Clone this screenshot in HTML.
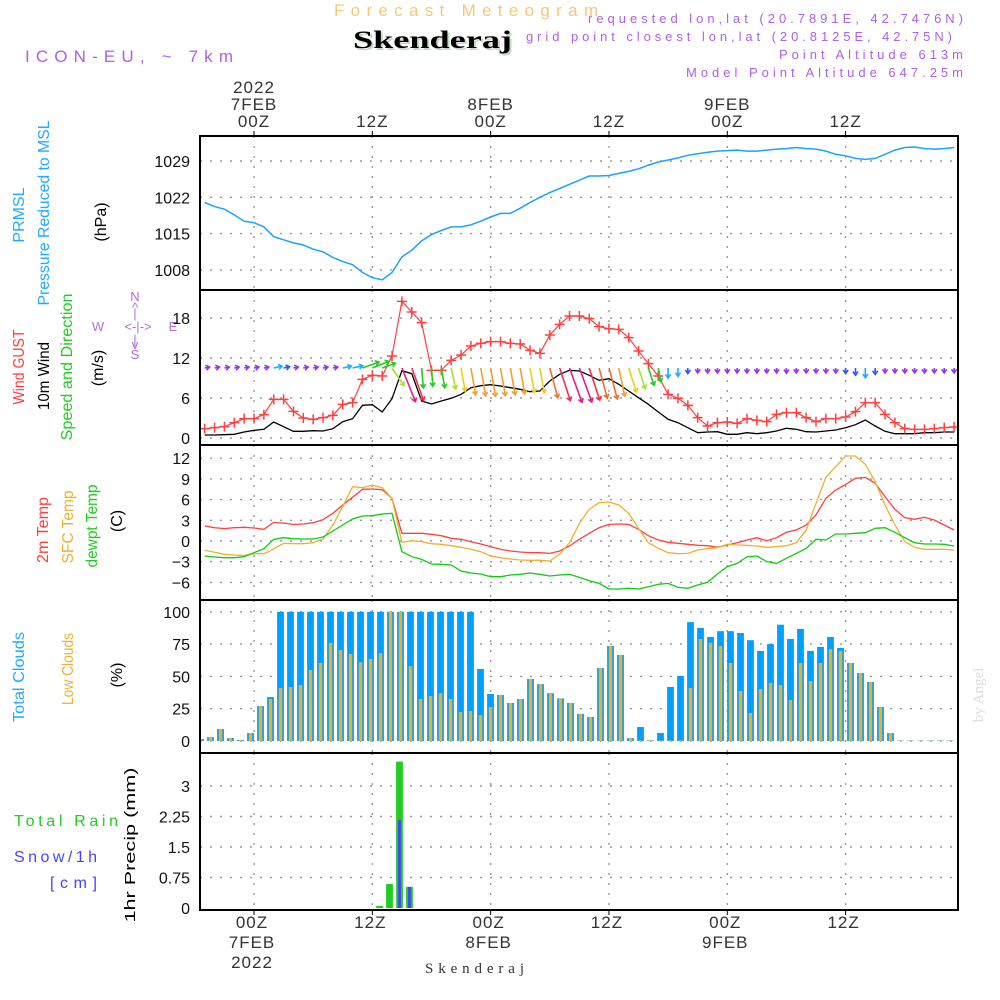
<!DOCTYPE html>
<html><head><meta charset="utf-8"><title>Meteogram Skenderaj</title>
<style>html,body{margin:0;padding:0;background:#fff}svg{display:block}text{font-family:"Liberation Sans",sans-serif}</style>
</head><body>
<svg id="chart" width="1000" height="1000" viewBox="0 0 1000 1000" xmlns="http://www.w3.org/2000/svg">
<rect x="0" y="0" width="1000" height="1000" fill="#fff"/>
<g>
<text x="334" y="16" font-size="17" fill="#f5c878" textLength="264" lengthAdjust="spacing">Forecast Meteogram</text>
<text x="355" y="50" font-size="25" font-weight="bold" fill="#c8d8c8" style="font-family:'Liberation Serif',serif" textLength="159" lengthAdjust="spacingAndGlyphs">Skenderaj</text>
<text x="353" y="48" font-size="25" font-weight="bold" fill="#000" style="font-family:'Liberation Serif',serif" textLength="159" lengthAdjust="spacingAndGlyphs">Skenderaj</text>
<text x="25" y="62" font-size="17" fill="#b060e0" textLength="208" lengthAdjust="spacing">ICON-EU, ~ 7km</text>
<text x="588" y="23" font-size="13" fill="#b060e0" textLength="375" lengthAdjust="spacing">requested lon,lat (20.7891E, 42.7476N)</text>
<text x="526" y="41" font-size="13" fill="#b060e0" textLength="426" lengthAdjust="spacing">grid point closest lon,lat (20.8125E, 42.75N)</text>
<text x="779" y="59" font-size="13" fill="#b060e0" textLength="184" lengthAdjust="spacing">Point Altitude 613m</text>
<text x="686" y="77" font-size="13" fill="#b060e0" textLength="277" lengthAdjust="spacing">Model Point Altitude 647.25m</text>
</g>
<g font-size="16">
<text transform="translate(24,215) rotate(-90)" text-anchor="middle" fill="#22aaff">PRMSL</text>
<text transform="translate(49,213) rotate(-90)" text-anchor="middle" fill="#22aaff" textLength="185" lengthAdjust="spacingAndGlyphs">Pressure Reduced to MSL</text>
<text transform="translate(106,222) rotate(-90)" text-anchor="middle" fill="#000">(hPa)</text>
<text transform="translate(24,367) rotate(-90)" text-anchor="middle" fill="#ff4040" textLength="75" lengthAdjust="spacingAndGlyphs">Wind GUST</text>
<text transform="translate(49,376) rotate(-90)" text-anchor="middle" fill="#000" textLength="68" lengthAdjust="spacingAndGlyphs">10m Wind</text>
<text transform="translate(72,367) rotate(-90)" text-anchor="middle" fill="#22cc22" textLength="147" lengthAdjust="spacingAndGlyphs">Speed and Direction</text>
<text transform="translate(103,368) rotate(-90)" text-anchor="middle" fill="#000">(m/s)</text>
<text transform="translate(48,530) rotate(-90)" text-anchor="middle" fill="#ff4040" textLength="66" lengthAdjust="spacingAndGlyphs">2m Temp</text>
<text transform="translate(73,527) rotate(-90)" text-anchor="middle" fill="#f0b030" textLength="73" lengthAdjust="spacingAndGlyphs">SFC Temp</text>
<text transform="translate(97,526) rotate(-90)" text-anchor="middle" fill="#22cc22" textLength="83" lengthAdjust="spacingAndGlyphs">dewpt Temp</text>
<text transform="translate(122,521) rotate(-90)" text-anchor="middle" fill="#000">(C)</text>
<text transform="translate(24,677) rotate(-90)" text-anchor="middle" fill="#22aaff" textLength="90" lengthAdjust="spacingAndGlyphs">Total Clouds</text>
<text transform="translate(73,669) rotate(-90)" text-anchor="middle" fill="#f0b030" textLength="72" lengthAdjust="spacingAndGlyphs">Low Clouds</text>
<text transform="translate(122,675) rotate(-90)" text-anchor="middle" fill="#000">(%)</text>
<text transform="translate(135,845) rotate(-90)" text-anchor="middle" fill="#000" font-size="15" textLength="155" lengthAdjust="spacingAndGlyphs">1hr Precip (mm)</text>
<text x="14" y="826" fill="#22cc22" textLength="104" lengthAdjust="spacing">Total Rain</text>
<text x="14" y="862" fill="#4444ff" textLength="83" lengthAdjust="spacing">Snow/1h</text>
<text x="50" y="888" fill="#4444ff" textLength="47" lengthAdjust="spacing">[cm]</text>
</g>
<g font-size="13" fill="#b070e0" text-anchor="middle">
<text x="135" y="301">N</text><text x="135" y="312">^</text><text x="135" y="318">|</text>
<text x="98" y="331">W</text><text x="138" y="331">&lt;-|-&gt;</text><text x="173" y="331">E</text>
<text x="135" y="344">|</text><text x="135" y="349">v</text><text x="135" y="359">S</text>
</g>
<text transform="translate(983,695) rotate(-90)" text-anchor="middle" font-size="15" fill="#dddddd" style="font-family:'Liberation Serif',serif">by Angel</text>
<text x="425" y="973" font-size="15" fill="#333" style="font-family:'Liberation Serif',serif" textLength="99" lengthAdjust="spacing">Skenderaj</text>
<g id="plot"></g>
</svg>
<script>
const hourStart = -5;
const pressure = [1021.0,1020.2,1019.7,1018.6,1017.4,1017.1,1016.3,1014.4,1013.8,1013.2,1012.8,1012.0,1011.5,1010.4,1009.6,1009.0,1007.5,1006.5,1006.1,1007.5,1010.5,1011.8,1013.6,1014.8,1015.6,1016.3,1016.3,1016.7,1017.4,1018.2,1018.9,1018.9,1019.9,1021.0,1022.0,1022.9,1023.7,1024.5,1025.3,1026.1,1026.1,1026.2,1026.6,1027.0,1027.5,1028.2,1028.8,1029.2,1029.6,1030.1,1030.4,1030.7,1030.9,1031.0,1031.1,1030.9,1030.9,1031.1,1031.3,1031.4,1031.6,1031.4,1031.3,1030.9,1030.3,1030.0,1029.5,1029.3,1029.5,1030.3,1031.1,1031.6,1031.7,1031.4,1031.3,1031.4,1031.6];
const windGust = [1.4,1.55,1.7,2.3,2.9,2.9,3.5,5.8,5.8,4.0,3.0,2.8,3.05,3.4,5.05,5.3,8.8,9.4,9.3,12.3,20.5,18.9,17.3,10.15,10.15,11.65,12.45,13.8,14.2,14.45,14.45,14.2,14.1,13.15,12.7,15.45,17.05,18.3,18.3,17.9,16.7,16.4,16.3,15.05,13.05,11.15,9.3,6.55,5.95,4.9,3.05,1.8,2.3,2.4,2.2,2.9,2.65,2.45,3.55,3.8,3.8,3.05,2.45,2.9,2.9,3.15,3.95,5.3,5.3,3.55,2.3,1.4,1.3,1.3,1.4,1.55,1.65];
const windSpeed = [0.45,0.45,0.5,0.55,0.9,1.15,1.3,2.4,1.7,1.0,1.0,1.1,1.05,1.4,2.45,2.9,4.9,5.0,3.9,5.9,10.1,9.65,5.55,5.1,5.55,5.95,6.55,7.55,7.85,8.0,7.8,7.55,7.3,6.95,7.05,8.55,9.55,10.15,10.05,9.4,8.65,8.9,8.05,7.05,6.05,5.05,3.9,2.8,2.3,1.55,0.8,0.9,0.95,0.55,0.55,0.8,0.65,0.8,1.05,1.45,1.3,0.95,0.9,1.05,1.2,1.55,2.0,2.7,1.8,1.0,0.65,0.65,0.65,0.8,0.8,0.9,0.9];
const windToDir = [78,78,78,78,78,78,78,78,78,78,78,78,78,78,78,78,70,68,70,146,158,160,175,176,170,168,170,170,170,170,170,170,170,170,170,165,162,160,160,162,165,165,168,162,162,162,170,180,180,180,180,180,180,180,180,180,180,180,180,180,180,180,180,180,180,180,180,180,180,180,180,180,180,180,180,180,180];
const temp2m = [2.17,1.93,1.79,1.93,1.98,1.88,1.69,2.7,2.6,2.41,2.46,2.65,3.09,4.01,5.22,6.33,7.49,7.53,7.44,6.19,1.11,1.11,1.11,0.97,0.77,0.39,0.24,-0.1,-0.43,-0.82,-1.21,-1.45,-1.59,-1.69,-1.69,-1.79,-1.45,-0.72,0.24,1.11,1.93,2.41,2.46,2.41,1.69,0.77,0.14,-0.19,-0.34,-0.48,-0.63,-0.68,-0.92,-0.58,-0.24,0.14,0.48,0.05,0.48,1.26,1.59,2.32,3.77,6.19,7.39,8.21,9.08,9.22,8.36,6.43,4.59,3.38,3.14,3.43,3.04,2.32,1.59];
const tempSfc = [-1.35,-1.64,-1.93,-2.03,-2.08,-1.84,-1.84,-1.16,-0.34,-0.39,-0.39,-0.24,0.29,2.32,4.98,7.87,7.73,8.11,7.73,6.19,-0.19,0.05,-0.1,-0.39,-0.48,-0.68,-0.92,-1.21,-1.55,-2.17,-2.42,-2.61,-2.75,-2.8,-2.8,-2.9,-1.93,-0.24,2.56,4.59,5.55,5.64,5.22,4.01,1.84,-0.24,-1.06,-1.69,-1.84,-1.79,-1.3,-1.11,-0.97,-0.48,-0.58,-0.63,-0.72,-0.92,-0.82,-0.68,-0.24,1.59,5.46,9.22,10.77,12.32,12.32,11.11,8.6,5.22,2.32,-0.1,-0.92,-1.21,-1.21,-1.21,-1.3];
const dewpt = [-2.17,-2.32,-2.42,-2.42,-2.27,-1.69,-1.11,0.24,0.48,0.34,0.29,0.29,0.58,1.45,2.32,3.19,3.62,3.67,3.91,4.01,-1.55,-2.27,-2.66,-3.33,-3.38,-3.48,-4.35,-4.64,-4.78,-5.17,-5.17,-4.93,-4.83,-4.64,-4.83,-5.07,-4.93,-4.83,-5.27,-5.75,-6.14,-6.96,-6.96,-6.86,-6.96,-6.62,-6.28,-6.14,-6.72,-6.86,-6.38,-5.99,-4.78,-3.72,-3.24,-2.27,-2.17,-2.99,-3.24,-2.51,-1.79,-1.06,0.24,0.14,1.01,1.01,1.11,1.2,1.84,1.93,1.26,0.48,-0.24,-0.43,-0.43,-0.48,-0.72];
const totalClouds = [1.5,3,9.3,2.3,0.8,6.2,27,34,100,100,100,100,100,100,100,100,100,100,100,100,100,100,100,100,100,100,100,100,55.7,36.4,35.6,29.4,32.5,48,44,37,33,29.4,21,18.6,56.5,73.5,66.6,2.3,10.8,0.5,6.2,41.8,50.3,92,87.5,80.5,85,85,83.6,78,69.7,75,90,79,86.7,69.7,72.8,80.5,72,60.4,52.6,45.7,26.3,6.2,0.3,0.3,0.3,0.3,0.3,0.3];
const lowClouds = [1.5,3,9.3,2.3,0.8,6.2,27,32.5,41,41.8,43.3,55,60.4,75.9,70.4,67.3,61,63.5,68,100,100,58,32.5,34.8,37,32.5,22.4,23.2,20,26.3,35.6,29.4,32.5,48,44,37,33,29.4,21,18.6,56.5,73.5,66.6,2.3,0.5,0.5,0.5,0.5,0.5,41,79,76,73.5,60.4,38.7,21.7,40.2,45,43.3,31.7,60.4,46.4,60.4,71.2,69.7,60.4,52.6,45.7,26.3,6.2,0.3,0.3,0.3,0.3,0.3,0.3];
const precipHours = [13,14,15,16];
const rainTotal = [0.05,0.59,3.6,0.52];
const snowTotal = [0,0,2.16,0.52];
const presTicks = [1008,1015,1022,1029];
const windTicks = [0,6,12,18];
const tempTicks = [-6,-3,0,3,6,9,12];
const cloudTicks = [0,25,50,75,100];
const precipTicks = [0,0.75,1.5,2.25,3];
const precipTickLabels = ["0","0.75","1.5","2.25","3"];
const timeHours = [0,12,24,36,48,60];
const timeLabels = ["00Z","12Z","00Z","12Z","00Z","12Z"];
const dayLabels = ["7FEB","","8FEB","","9FEB",""];

const X = h => 254 + 9.86 * h;
const XB = h => 250.5 + 10 * h;
const Y1 = p => 161 + (1029 - p) * 36.3 / 7;
const Y2 = v => 438 - v * 40 / 6;
const Y3 = t => 541 - t * 20.7 / 3;
const Y4 = c => 741 - c * 32.3 / 25;
const Y5 = m => 908 - m * 40.67;
const L = 200, R = 958;
const panels = [[136,290],[290,445],[445,600],[600,753],[753,910]];

const NS = "http://www.w3.org/2000/svg";
const root = document.getElementById("plot");
function mk(tag, attrs, parent) {
  const e = document.createElementNS(NS, tag);
  for (const k in attrs) e.setAttribute(k, attrs[k]);
  (parent || root).appendChild(e);
  return e;
}
function pts(arr, yf) { return arr.map((v, i) => X(i + hourStart).toFixed(1) + "," + yf(v).toFixed(1)).join(" "); }

const defs = mk("defs", {});
const cp = mk("clipPath", {id: "clipP"}, defs);
mk("rect", {x: L, y: 136, width: R - L, height: 774}, cp);

const gridG = mk("g", {});


panels.forEach(p => {
  timeHours.forEach(h => {
    const ln = mk("line", {x1: X(h), x2: X(h), y1: p[0], y2: p[1], stroke: "#999", "stroke-width": 1.4, "stroke-dasharray": "2,8"}, gridG);
    
    
  });
});
function hgrid(ticks, yf, name, skipZero) {
  ticks.forEach(t => {
    if (skipZero && t === 0) return;
    const ln = mk("line", {x1: L, x2: R, y1: yf(t), y2: yf(t), stroke: "#999", "stroke-width": 1.4, "stroke-dasharray": "2,8"}, gridG);
    
    
  });
}
hgrid(presTicks, Y1, 'pressure-gridline');
hgrid(windTicks, Y2, 'wind-gridline');
hgrid(tempTicks, Y3, 'temp-gridline');
hgrid(cloudTicks, Y4, 'cloud-gridline');
hgrid(precipTicks, Y5, 'precip-gridline', true);

function ticksLabels(ticks, labels, yf, name) {
  ticks.forEach((t, i) => {
    const tx = mk("text", {x: 190, y: yf(t) + 6, "font-size": 16, fill: "#111", "text-anchor": "end"});
    tx.textContent = labels ? labels[i] : String(t).replace("-", "\u2212");
    
    
  });
}
ticksLabels(presTicks, null, Y1, 'pressure-tick-label');
ticksLabels(windTicks, null, Y2, 'wind-tick-label');
ticksLabels(tempTicks, null, Y3, 'temp-tick-label');
ticksLabels(cloudTicks, null, Y4, 'cloud-tick-label');
ticksLabels(precipTicks, precipTickLabels, Y5, 'precip-tick-label');

timeHours.forEach((h, i) => {
  const t1 = mk("text", {x: X(h), y: 127, "font-size": 17, fill: "#333", "text-anchor": "middle", "letter-spacing": "1"});
  t1.textContent = timeLabels[i];
  
  
  const t2 = mk("text", {x: X(h) - 2, y: 928, "font-size": 17, fill: "#333", "text-anchor": "middle", "letter-spacing": "1"});
  t2.textContent = timeLabels[i];
  
  
  if (dayLabels[i]) {
    const d1 = mk("text", {x: X(h), y: 110, "font-size": 17, fill: "#333", "text-anchor": "middle", "letter-spacing": "1"});
    d1.textContent = dayLabels[i];
    
    
    const d2 = mk("text", {x: X(h) - 2, y: 948, "font-size": 17, fill: "#333", "text-anchor": "middle", "letter-spacing": "1"});
    d2.textContent = dayLabels[i];
    
    
  }
  const tk = mk("line", {x1: X(h), x2: X(h), y1: 131, y2: 136, stroke: "#000", "stroke-width": 1});
  
  
  const tk2 = mk("line", {x1: X(h), x2: X(h), y1: 910, y2: 915, stroke: "#000", "stroke-width": 1});
  
  
});
const yr1 = mk("text", {x: X(0), y: 93, "font-size": 17, fill: "#333", "text-anchor": "middle", "letter-spacing": "1"});
yr1.textContent = "2022";


const yr2 = mk("text", {x: X(0) - 2, y: 968, "font-size": 17, fill: "#333", "text-anchor": "middle", "letter-spacing": "1"});
yr2.textContent = "2022";



const dataG = mk("g", {"clip-path": "url(#clipP)"});



const pl = mk("polyline", {points: pts(pressure, Y1), fill: "none", stroke: "#1aa3ff", "stroke-width": 1.5}, dataG);



const wl = mk("polyline", {points: pts(windSpeed, Y2), fill: "none", stroke: "#000", "stroke-width": 1.3}, dataG);



const gl = mk("polyline", {points: pts(windGust, Y2), fill: "none", stroke: "#ff4040", "stroke-width": 1.2}, dataG);


windGust.forEach((v, i) => {
  const x = X(i + hourStart), y = Y2(v);
  const m = mk("path", {d: `M${x-5},${y}H${x+5}M${x},${y-5}V${y+5}`, stroke: "#ff4040", "stroke-width": 1.5}, dataG);
  
  
});

function arrowColor(s) {
  if (s < 1.5) return "#9933ee";
  if (s < 2.2) return "#3355ff";
  if (s < 3.5) return "#22aaff";
  if (s < 5.7) return "#22cc22";
  if (s < 6.5) return "#a8e030";
  if (s < 7.2) return "#e8d020";
  if (s < 8.5) return "#f0a030";
  if (s < 9.2) return "#f07030";
  if (s < 9.8) return "#f03050";
  return "#e0208a";
}
windSpeed.forEach((s, i) => {
  const x0 = X(i + hourStart), y0 = Y2(10.5);
  const len = Math.max(5, s * 3.6);
  const a = windToDir[i] * Math.PI / 180;
  const x1 = x0 + Math.sin(a) * len, y1 = y0 - Math.cos(a) * len;
  const hl = 4.5, ha = 0.6;
  const b1 = a + Math.PI - ha, b2 = a + Math.PI + ha;
  const d = `M${x0.toFixed(1)},${y0.toFixed(1)}L${x1.toFixed(1)},${y1.toFixed(1)}M${(x1+Math.sin(b1)*hl).toFixed(1)},${(y1-Math.cos(b1)*hl).toFixed(1)}L${x1.toFixed(1)},${y1.toFixed(1)}L${(x1+Math.sin(b2)*hl).toFixed(1)},${(y1-Math.cos(b2)*hl).toFixed(1)}`;
  const ar = mk("path", {d: d, fill: "none", stroke: arrowColor(s), "stroke-width": 1.6}, dataG);
  
  
});

const tl1 = mk("polyline", {points: pts(temp2m, Y3), fill: "none", stroke: "#ff4040", "stroke-width": 1.3}, dataG);


const tl2 = mk("polyline", {points: pts(tempSfc, Y3), fill: "none", stroke: "#f0b030", "stroke-width": 1.3}, dataG);


const tl3 = mk("polyline", {points: pts(dewpt, Y3), fill: "none", stroke: "#11cc11", "stroke-width": 1.3}, dataG);



totalClouds.forEach((c, i) => {
  const cx = XB(i + hourStart);
  const b = mk("rect", {x: cx - 3.4, y: Y4(c), width: 6.8, height: Y4(0) - Y4(c), fill: "#00a0ff"}, dataG);
  
  
});
lowClouds.forEach((c, i) => {
  const cx = XB(i + hourStart);
  const b = mk("rect", {x: cx - 1.7, y: Y4(c), width: 3.4, height: Y4(0) - Y4(c), fill: "#e8b030"}, dataG);
  
  
});

rainTotal.forEach((r, i) => {
  const cx = XB(precipHours[i]) - 1;
  const b = mk("rect", {x: cx - 3.4, y: Y5(r), width: 6.8, height: Y5(0) - Y5(r), fill: "#22cc22"}, dataG);
  
  
});
snowTotal.forEach((s, i) => {
  if (s <= 0) return;
  const cx = XB(precipHours[i]) - 1;
  const b = mk("rect", {x: cx - 1.4, y: Y5(s), width: 2.8, height: Y5(0) - Y5(s), fill: "#4444ff"}, dataG);
  
  
});

panels.forEach(p => {
  const f = mk("rect", {x: L, y: p[0], width: R - L, height: p[1] - p[0], fill: "none", stroke: "#000", "stroke-width": 2});
  
  
});
</script>
</body></html>
